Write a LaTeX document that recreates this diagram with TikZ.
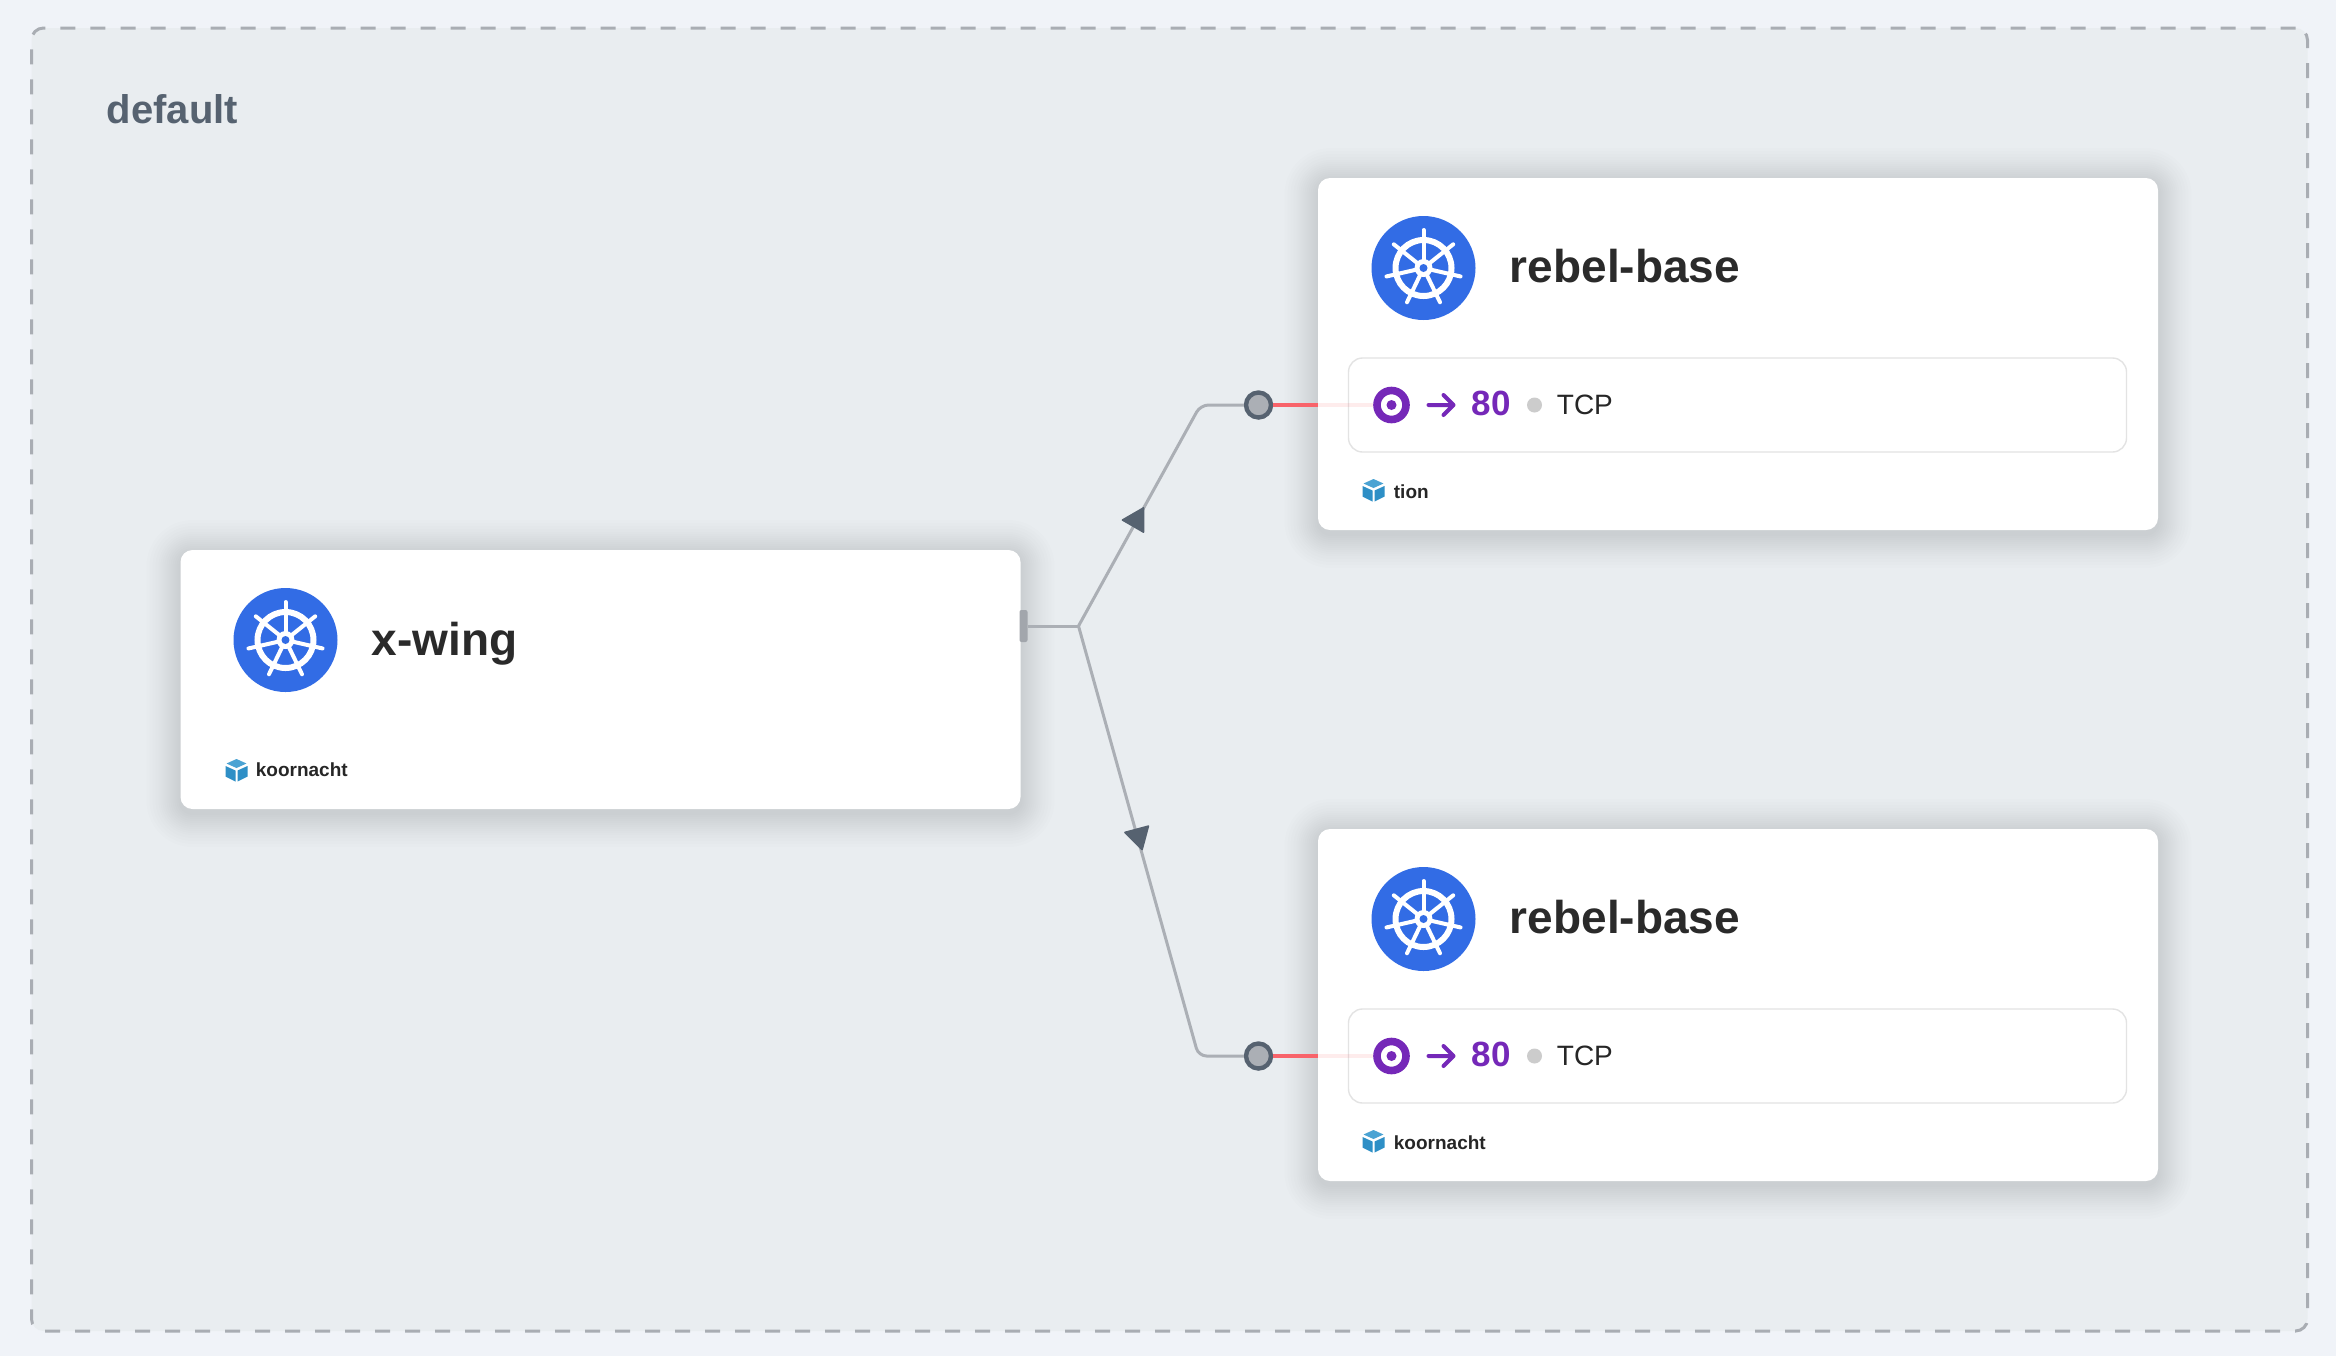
\documentclass[tikz,border=0pt]{standalone}
\usepackage{fontspec}
\setmainfont{Liberation Sans}
\usetikzlibrary{shapes.geometric}

\definecolor{pagebg}{HTML}{F0F3F8}
\definecolor{framebg}{HTML}{E9EDF0}
\definecolor{framedash}{HTML}{A9ADB3}
\definecolor{helmblue}{HTML}{326CE5}
\definecolor{cubelight}{HTML}{4BA3D3}
\definecolor{cubedark}{HTML}{2E8FC6}
\definecolor{portpurple}{HTML}{7528B8}
\definecolor{slate}{HTML}{566270}
\definecolor{flowgrey}{HTML}{ABAFB5}
\definecolor{flowred}{HTML}{F8636A}
\definecolor{inktext}{HTML}{2A2A2A}

\newcommand{\fsize}[1]{\fontsize{#1}{#1}\selectfont}
\newcommand{\cardshadow}[4]{%
  \foreach \s in {2,4,...,22,25,28,31,34}
    \fill[black, opacity=.008, rounded corners=6pt+.5pt*\s]
      (#1-\s,#2-\s+4) rectangle (#3+\s,#4+\s+4);
}

\tikzset{
  frame/.style={draw=framedash, fill=framebg, line width=1.5pt,
    dash pattern=on 7.5pt off 7.5pt, rounded corners=6pt, outer sep=0pt,
    minimum width=1138pt, minimum height=651.5pt},
  card/.style={fill=white, rounded corners=6pt, outer sep=0pt, inner sep=0pt,
    minimum width=420pt},
  portbox/.style={draw=black!11, line width=.7pt, rounded corners=7pt, outer sep=0pt,
    minimum width=389pt, minimum height=47pt},
  title/.style={anchor=base west, inner sep=0pt, text=inktext, font=\bfseries\fsize{23}},
  nslabel/.style={anchor=base west, inner sep=0pt, text=black!85, font=\bfseries\fsize{9.5}},
  flowline/.style={draw=flowgrey, line width=1.5pt},
  target/.style={circle, draw=portpurple, line width=3.8pt, fill=white,
    minimum size=14.5pt, inner sep=0pt, outer sep=1.9pt},
  portdot/.style={circle, draw=slate, line width=2.2pt, fill=flowgrey,
    minimum size=12.5pt, inner sep=0pt, outer sep=1.1pt},
  flowhead/.style={regular polygon, regular polygon sides=3, fill=slate, draw=slate,
    line width=.8pt, line join=round, minimum size=14pt, inner sep=0pt},
  helm/.pic={
    \fill[helmblue] (0,0) circle (52);
    \draw[white, line width=3pt] (0,0) circle (28);
    \foreach \i in {0,...,6}
      \draw[white, line width=2pt, line cap=round] (0,0) -- (-90+\i*360/7:38);
    \fill[white] (0,0) circle (9);
    \fill[helmblue] (0,0) circle (4);
  },
  nscube/.pic={
    \fill[cubelight] (0,-11) -- (10,-6.5) -- (0,-2) -- (-10,-6.5) -- cycle;
    \fill[cubedark] (-11,-4) -- (-1,.5) -- (-1,11.5) -- (-11,6.5) -- cycle;
    \fill[cubedark] (11,-4) -- (1,.5) -- (1,11.5) -- (11,6.5) -- cycle;
  }
}

\begin{document}
\begin{tikzpicture}[x=.5pt, y=-.5pt]
  \useasboundingbox[fill=pagebg] (0,0) rectangle (2336,1356);
  \begin{scope}[shift={(.5,1)}]
  \node[frame] (nsframe) at (1169,678.5) {};
  \node[anchor=base west, inner sep=0pt, text=slate, font=\bfseries\fsize{20}] (nsname) at (106,122) {default};

  \cardshadow{180}{549}{1020}{808}
  \node[card, minimum height=129.5pt] (xwing) at (600,678.5) {};
  \pic at (285,639) {helm};
  \node[title] (xwingname) at (371,654) {x-wing};
  \pic at (236,769) {nscube};
  \node[nslabel] (xwingns) at (255,775) {koornacht};

  \foreach \card/\off/\ns in {a/0/tion, b/651/koornacht} {
    \cardshadow{1318}{177+\off}{2157}{529+\off}
    \node[card, minimum height=176pt] (rebel\card) at (1737.5,353+\off) {};
    \pic at (1423,267+\off) {helm};
    \node[title] (rebel\card name) at (1509,281+\off) {rebel-base};
    \node[portbox] (port\card) at (1737,404+\off) {};
    \node[target] (target\card) at (1391,404+\off) {};
    \fill[portpurple] (target\card) circle (5);
    \draw[portpurple, line width=2pt, line cap=round, line join=round]
      (1428,404+\off) -- (1452,404+\off) (1443,394+\off) -- (1453,404+\off) -- (1443,414+\off);
    \node[anchor=base west, inner sep=0pt, text=portpurple, font=\bfseries\fsize{17.5}] (num\card) at (1471,414+\off) {80};
    \fill[black!20] (1534,404+\off) circle (7.5);
    \node[anchor=base west, inner sep=0pt, text=black!85, font=\fsize{14}] (proto\card) at (1556,413+\off) {TCP};
    \pic at (1373,489+\off) {nscube};
    \node[nslabel] (rebel\card ns) at (1393,497+\off) {\ns};
  }

  \node[fill=flowgrey!95!black, rounded corners=1pt, minimum width=4pt, minimum height=16pt, inner sep=0pt, outer sep=0pt] (stub) at (1023,625) {};
  \coordinate (fork) at (1078,625);
  \coordinate (benda) at (1200,404);
  \coordinate (bendb) at (1198,1055);
  \node[portdot] (dota) at (1258,404) {};
  \node[portdot] (dotb) at (1258,1055) {};

  \draw[flowline] (stub) -- (fork);
  \draw[flowline, rounded corners=4pt] (fork) -- (benda) -- (dota);
  \draw[flowline, rounded corners=4pt] (fork) -- (bendb) -- (dotb);
  \foreach \card in {a,b} {
    \draw[flowred, line width=1.6pt] (dot\card) -- (rebel\card.west |- dot\card);
    \draw[flowred, opacity=.12, line width=1.6pt] (rebel\card.west |- dot\card) -- (target\card);
  }
  \node[flowhead, shape border rotate=90] (heada) at (1136,519) {};
  \node[flowhead, shape border rotate=75] (headb) at (1138,835) {};
  \end{scope}
\end{tikzpicture}
\end{document}
